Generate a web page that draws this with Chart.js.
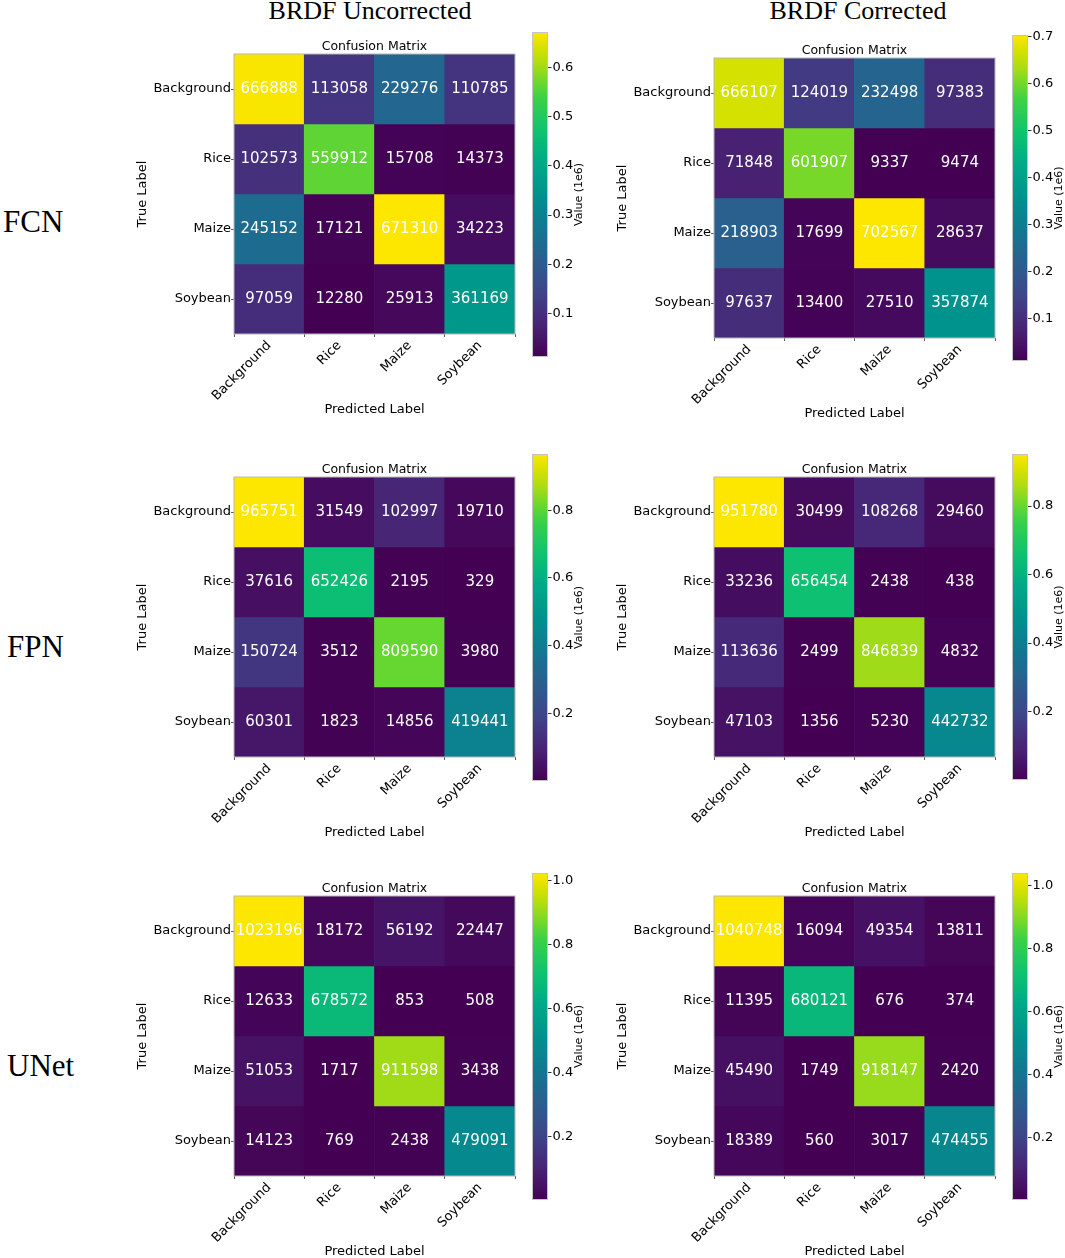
<!DOCTYPE html>
<html>
<head>
<meta charset="utf-8">
<script src="https://cdn.jsdelivr.net/npm/chart.js"></script>
<style>
  body { margin: 0; background: #fff; }
  #page { position: relative; width: 1065px; height: 1258px; overflow: hidden; }
  canvas { position: absolute; }
  .head { position: absolute; font-family: "Liberation Serif", serif; color: #000; line-height: 1; white-space: nowrap; }
</style>
</head>
<body>
<div id="page">
  <div class="head" style="left:220px;width:300px;top:-2px;font-size:26px;text-align:center">BRDF Uncorrected</div>
  <div class="head" style="left:708px;width:300px;top:-2px;font-size:26px;text-align:center">BRDF Corrected</div>
  <div class="head" style="left:3px;top:206px;font-size:31px">FCN</div>
  <div class="head" style="left:7px;top:631px;font-size:31px">FPN</div>
  <div class="head" style="left:7px;top:1050px;font-size:31px">UNet</div>
</div>
<script>
// class names (rows = true label, columns = predicted label)
var classes = ["Background", "Rice", "Maize", "Soybean"];

var fcnUncorrected = [
  [666888, 113058, 229276, 110785],
  [102573, 559912, 15708, 14373],
  [245152, 17121, 671310, 34223],
  [97059, 12280, 25913, 361169]
];
var fcnCorrected = [
  [666107, 124019, 232498, 97383],
  [71848, 601907, 9337, 9474],
  [218903, 17699, 702567, 28637],
  [97637, 13400, 27510, 357874]
];
var fpnUncorrected = [
  [965751, 31549, 102997, 19710],
  [37616, 652426, 2195, 329],
  [150724, 3512, 809590, 3980],
  [60301, 1823, 14856, 419441]
];
var fpnCorrected = [
  [951780, 30499, 108268, 29460],
  [33236, 656454, 2438, 438],
  [113636, 2499, 846839, 4832],
  [47103, 1356, 5230, 442732]
];
var unetUncorrected = [
  [1023196, 18172, 56192, 22447],
  [12633, 678572, 853, 508],
  [51053, 1717, 911598, 3438],
  [14123, 769, 2438, 479091]
];
var unetCorrected = [
  [1040748, 16094, 49354, 13811],
  [11395, 680121, 676, 374],
  [45490, 1749, 918147, 2420],
  [18389, 560, 3017, 474455]
];

// colorbar tick labels (units of 1e6)
var fcnUncorrectedTicks = [0.1, 0.2, 0.3, 0.4, 0.5, 0.6];
var fcnCorrectedTicks = [0.1, 0.2, 0.3, 0.4, 0.5, 0.6, 0.7];
var fpnTicks = [0.2, 0.4, 0.6, 0.8];
var unetTicks = [0.2, 0.4, 0.6, 0.8, 1.0];

// viridis-like map, a bit more saturated like the printed figure
var cmapPos = [0, 0.1, 0.2, 0.3, 0.4, 0.5, 0.6, 0.7, 0.8, 0.85, 0.9, 0.95, 1];
var cmapCol = ["#440154", "#482475", "#3f4589", "#2a5f8e", "#127890", "#00918d",
               "#00a987", "#10c36e", "#3dd146", "#72d82b", "#abdc14", "#d6e100", "#fde600"];

function hexRgb(h) {
  return [parseInt(h.substr(1, 2), 16), parseInt(h.substr(3, 2), 16), parseInt(h.substr(5, 2), 16)];
}
function cmap(t) {
  t = Math.max(0, Math.min(1, t));
  var i = 0;
  while (i < cmapPos.length - 2 && t > cmapPos[i + 1]) i++;
  var f = (t - cmapPos[i]) / (cmapPos[i + 1] - cmapPos[i]);
  var a = hexRgb(cmapCol[i]), b = hexRgb(cmapCol[i + 1]);
  var c = a.map(function (v, k) { return Math.round(v + (b[k] - v) * f); });
  return "rgb(" + c.join(",") + ")";
}

Chart.defaults.font.family = "'DejaVu Sans', sans-serif";
Chart.defaults.color = "#000";
Chart.defaults.animation = false;

var page = document.getElementById("page");

function addCanvas(x, y, w, h) {
  var c = document.createElement("canvas");
  c.width = w; c.height = h;
  c.style.left = x + "px"; c.style.top = y + "px";
  c.style.width = w + "px"; c.style.height = h + "px";
  page.appendChild(c);
  return c;
}

// cell numbers, frame and the "Confusion Matrix" heading over the plot area
var cellText = {
  id: "cellText",
  afterDatasetsDraw: function (chart) {
    var ctx = chart.ctx, a = chart.chartArea;
    ctx.save();
    ctx.fillStyle = "#fff";
    ctx.font = "15px 'DejaVu Sans'";
    ctx.textAlign = "center";
    ctx.textBaseline = "middle";
    chart.data.datasets.forEach(function (ds, r) {
      chart.getDatasetMeta(r).data.forEach(function (bar, j) {
        ctx.fillText(String(ds.values[j]), bar.x, (bar.y + bar.base) / 2);
      });
    });
    ctx.strokeStyle = "#b8b8b8";
    ctx.lineWidth = 1;
    ctx.strokeRect(a.left, a.top, a.right - a.left, a.bottom - a.top);
    ctx.fillStyle = "#000";
    ctx.font = "12.5px 'DejaVu Sans'";
    ctx.fillText("Confusion Matrix", (a.left + a.right) / 2, a.top - 7.5);
    ctx.restore();
  }
};

var cbarLabel = {
  id: "cbarLabel",
  afterDraw: function (chart) {
    var ctx = chart.ctx, a = chart.chartArea;
    ctx.save();
    ctx.strokeStyle = "#c4c4c4";
    ctx.lineWidth = 1;
    ctx.strokeRect(a.left + 0.5, a.top + 0.5, a.right - a.left - 1, a.bottom - a.top - 1);
    ctx.translate(a.left + 47, (a.top + a.bottom) / 2);
    ctx.rotate(-Math.PI / 2);
    ctx.font = "11px 'DejaVu Sans'";
    ctx.fillStyle = "#000";
    ctx.textAlign = "center";
    ctx.textBaseline = "middle";
    ctx.fillText("Value (1e6)", 0, 0);
    ctx.restore();
  }
};

function drawPanel(matrix, cbTicks, L, T, cbLeft, cbTop, cbBottom) {
  var flat = [].concat.apply([], matrix);
  var vmin = Math.min.apply(null, flat), vmax = Math.max.apply(null, flat);

  var datasets = matrix.map(function (row, r) {
    return {
      data: row.map(function () { return [r - 0.5, r + 0.5]; }),
      values: row,
      backgroundColor: row.map(function (v) { return cmap((v - vmin) / (vmax - vmin)); }),
      borderWidth: 0,
      grouped: false,
      barPercentage: 1,
      categoryPercentage: 1
    };
  });

  var tickGrid = { display: true, drawOnChartArea: false, tickLength: 3, color: "#333", lineWidth: 0.8 };

  new Chart(addCanvas(L - 99, T - 54, 99 + 281 + 8, 54 + 280 + 83), {
    type: "bar",
    data: { labels: classes, datasets: datasets },
    options: {
      responsive: false,
      layout: { autoPadding: false, padding: { top: 54, left: 0, right: 8, bottom: 0 } },
      plugins: {
        legend: { display: false },
        tooltip: { enabled: false },
        title: { display: false }
      },
      scales: {
        x: {
          type: "category",
          offset: true,
          grid: tickGrid,
          border: { display: false },
          ticks: { maxRotation: 45, minRotation: 45, font: { size: 13 }, padding: 1 },
          title: { display: true, text: "Predicted Label", font: { size: 13 }, padding: 0 },
          afterFit: function (s) { s.height = 83; }
        },
        y: {
          type: "linear",
          reverse: true,
          min: -0.5,
          max: 3.5,
          grid: tickGrid,
          border: { display: false },
          afterBuildTicks: function (s) { s.ticks = [0, 1, 2, 3].map(function (v) { return { value: v }; }); },
          ticks: { font: { size: 13 }, padding: 0, callback: function (v) { return classes[v]; } },
          title: { display: true, text: "True Label", font: { size: 13 }, padding: 0 },
          afterFit: function (s) { s.width = 99; }
        }
      }
    },
    plugins: [cellText]
  });

  var lo = vmin / 1e6, hi = vmax / 1e6;
  new Chart(addCanvas(cbLeft, cbTop - 10, 16 + 45, cbBottom - cbTop + 20), {
    type: "bar",
    data: {
      labels: ["cb"],
      datasets: [{
        data: [[lo, hi]],
        borderWidth: 0,
        barPercentage: 1,
        categoryPercentage: 1,
        backgroundColor: function (ctx) {
          var chart = ctx.chart, y = chart.scales.y;
          if (!chart.chartArea || !y) return cmapCol[0];
          var g = chart.ctx.createLinearGradient(0, y.getPixelForValue(lo), 0, y.getPixelForValue(hi));
          cmapPos.forEach(function (p, i) { g.addColorStop(p, cmapCol[i]); });
          return g;
        }
      }]
    },
    options: {
      responsive: false,
      layout: { autoPadding: false, padding: { top: 10, bottom: 10, left: 0, right: 0 } },
      plugins: { legend: { display: false }, tooltip: { enabled: false } },
      scales: {
        x: { display: false },
        y: {
          position: "right",
          min: lo,
          max: hi,
          grid: { display: true, drawOnChartArea: false, tickLength: 3.5, color: "#000", lineWidth: 0.8 },
          border: { display: false },
          afterBuildTicks: function (s) { s.ticks = cbTicks.map(function (v) { return { value: v }; }); },
          ticks: { font: { size: 13 }, padding: 1, callback: function (v) { return v.toFixed(1); } },
          afterFit: function (s) { s.width = 45; }
        }
      }
    },
    plugins: [cbarLabel]
  });
}

drawPanel(fcnUncorrected, fcnUncorrectedTicks, 234, 54, 532, 32, 357);
drawPanel(fcnCorrected, fcnCorrectedTicks, 714, 58, 1012, 35, 361);
drawPanel(fpnUncorrected, fpnTicks, 234, 477, 532, 454, 781);
drawPanel(fpnCorrected, fpnTicks, 714, 477, 1012, 454, 780);
drawPanel(unetUncorrected, unetTicks, 234, 896, 532, 873, 1200);
drawPanel(unetCorrected, unetTicks, 714, 896, 1012, 873, 1200);
</script>
</body>
</html>
